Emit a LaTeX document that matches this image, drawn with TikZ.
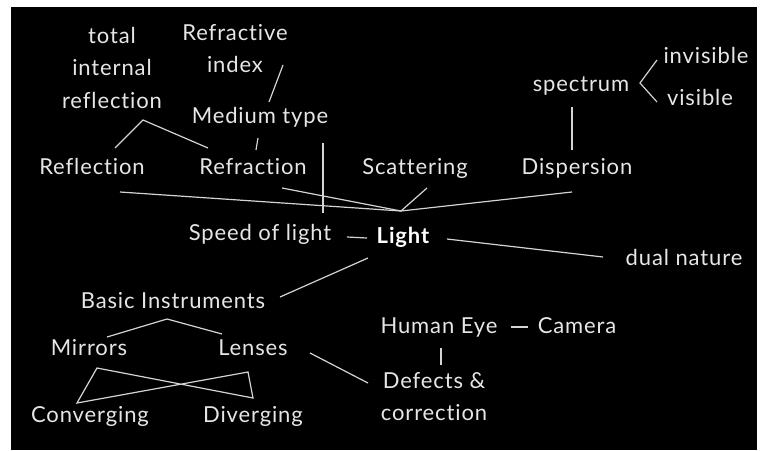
\documentclass[tikz,border=0pt]{standalone}
\usepackage{fontspec}
\setmainfont{Lato}[LetterSpace=4, Ligatures=NoCommon]
\usetikzlibrary{positioning}

\definecolor{chalk}{RGB}{230,230,230}
\definecolor{linegray}{RGB}{212,212,212}

\tikzset{
  topic/.style={text=chalk, inner sep=0pt, anchor=base, font=\fontsize{22}{32.5}\selectfont},
  block/.style={topic, anchor=north, align=center},
  wire/.style={draw=linegray, line width=1.2pt}
}

\begin{document}
\begin{tikzpicture}[x=1pt,y=-1pt]
\useasboundingbox (0,0) rectangle (760,450);
\fill[white] (0,0) rectangle (760,450);
\fill[black] (11,7) rectangle (757,450);

  % upper branch
  \node[block] (tir) at (112,27) {total\\internal\\reflection};
  \node[block] (rindex) at (235,24) {Refractive\\index};
  \node[topic] (medium) at (260,123) {Medium type};
  \node[topic] (refl) at (92,174) {Reflection};
  \node[topic] (refr) at (253,174) {Refraction};
  \node[topic] (scat) at (415,174) {Scattering};
  \node[topic] (disp) at (577,174) {Dispersion};
  \node[topic] (spec) at (581,91) {spectrum};
  \node[topic] (invis) at (706,63) {invisible};
  \node[topic] (vis) at (700,105) {visible};

  % centre line
  \node[topic] (speed) at (260,240) {Speed of light};
  \node[topic, text=white, font=\fontsize{22}{32.5}\selectfont\bfseries] (light) at (403,243) {Light};
  \node[topic] (dual) at (684,265) {dual nature};

  % lower branch
  \node[topic] (basic) at (173,308) {Basic Instruments};
  \node[topic] (mirrors) at (89,355) {Mirrors};
  \node[topic] (lenses) at (253,355) {Lenses};
  \node[topic] (conv) at (90,422) {Converging};
  \node[topic] (div) at (253,422) {Diverging};
  \node[topic] (human) at (439,333) {Human Eye};
  \node[topic] (camera) at (577,333) {Camera};
  \node[block] (defects) at (434,372) {Defects \&\\correction};

  % forks
  \coordinate (hub) at (401,211);
  \coordinate (tirfork) at ([shift={(31,93)}]tir.north);
  \coordinate (specfork) at ([shift={(59,-8)}]spec.base);
  \coordinate (basicfork) at ([shift={(-6,11)}]basic.base);

  \draw[wire] ([shift={(28,18)}]refl.base) -- (hub);
  \draw[wire] ([shift={(29,14)}]refr.base) -- (hub);
  \draw[wire] ([shift={(12,14)}]scat.base) -- (hub);
  \draw[wire] ([shift={(-5,18)}]disp.base) -- (hub);

  \draw[wire] ([shift={(23,-26)}]refl.base) -- (tirfork) -- ([shift={(-45,-26)}]refr.base);
  \draw[wire] ([shift={(48,41)}]rindex.north) -- ([shift={(9,-21)}]medium.base);
  \draw[wire] ([shift={(-2,15)}]medium.base) -- ([shift={(3,-24)}]refr.base);
  \draw[wire] ([shift={(63,20)}]medium.base) -- ([shift={(63,-27)}]speed.base);

  \draw[wire] ([shift={(-9,16)}]spec.base) -- ([shift={(-5,-24)}]disp.base);
  \draw[wire] ([shift={(-49,-3)}]invis.base) -- (specfork) -- ([shift={(-43,-3)}]vis.base);

  \draw[wire] ([shift={(87,-3)}]speed.base) -- ([shift={(-36,-5)}]light.base);
  \draw[wire] ([shift={(44,-4)}]light.base) -- ([shift={(-81,-8)}]dual.base);
  \draw[wire] ([shift={(-35,15)}]light.base) -- ([shift={(107,-11)}]basic.base);

  \draw[wire] ([shift={(18,-18)}]mirrors.base) -- (basicfork) -- ([shift={(-31,-21)}]lenses.base);
  \draw[wire] ([shift={(8,13)}]mirrors.base) -- ([shift={(-13,-19)}]conv.base)
    -- ([shift={(-5,17)}]lenses.base) -- ([shift={(0,-24)}]div.base) -- cycle;
  \draw[wire] ([shift={(57,-2)}]lenses.base) -- ([shift={(-66,11)}]defects.north);

  \draw[wire] ([shift={(72,-6)}]human.base) -- ([shift={(-49,-6)}]camera.base);
  \draw[wire] ([shift={(2,15)}]human.base) -- ([shift={(7,-7)}]defects.north);

\end{tikzpicture}
\end{document}
